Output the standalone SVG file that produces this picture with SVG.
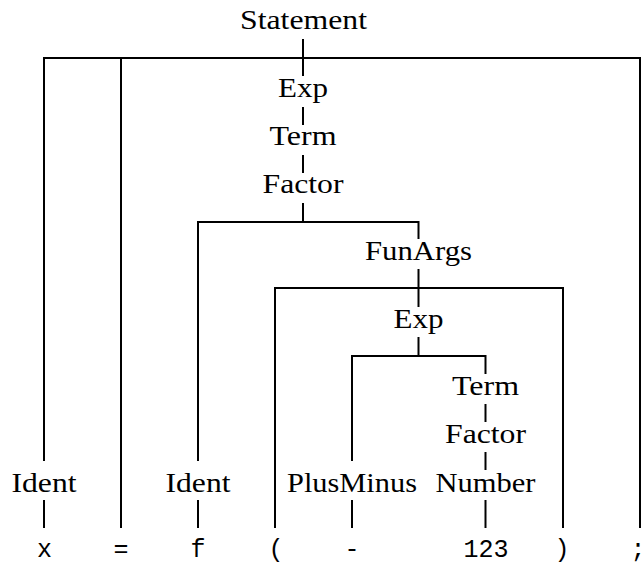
<svg xmlns="http://www.w3.org/2000/svg" width="644" height="566" viewBox="0 0 644 566">
  <style>
    text.lbl { font-family: "Liberation Serif", serif; font-size: 28px; fill: #000; text-anchor: middle; }
    text.tok { font-family: "Liberation Mono", monospace; font-size: 25px; fill: #000; text-anchor: middle; }
    .edge { fill: none; stroke: #000; stroke-width: 2; stroke-linejoin: miter; stroke-linecap: butt; }
  </style>
  <rect width="644" height="566" fill="#fff"/>

  <!-- tree edges -->
  <g id="connectors">
    <!-- Statement -->
    <path class="edge" d="M303 39 V76"/>
    <path class="edge" d="M44 461 V58 H640 V528"/>
    <path class="edge" d="M121 58 V528"/>
    <!-- Exp > Term > Factor -->
    <path class="edge" d="M303 107 V125"/>
    <path class="edge" d="M303 155 V173"/>
    <path class="edge" d="M303 203 V222"/>
    <!-- Factor children -->
    <path class="edge" d="M198 461 V222 H418.5 V239"/>
    <!-- FunArgs children -->
    <path class="edge" d="M418.5 269 V307"/>
    <path class="edge" d="M275 528 V288 H563 V528"/>
    <!-- Exp children -->
    <path class="edge" d="M418.5 337 V356"/>
    <path class="edge" d="M352 461 V356 H485.5 V374"/>
    <!-- Term > Factor > Number -->
    <path class="edge" d="M485.5 404 V422"/>
    <path class="edge" d="M485.5 452 V470"/>
    <!-- leaves -->
    <path class="edge" d="M44 500 V528"/>
    <path class="edge" d="M198 500 V528"/>
    <path class="edge" d="M352 500 V528"/>
    <path class="edge" d="M485.5 500 V528"/>
  </g>

  <g id="n-statement"><text class="lbl" x="303.5" y="29" textLength="127" lengthAdjust="spacingAndGlyphs">Statement</text></g>
  <g id="n-exp1"><text class="lbl" x="303" y="97" textLength="50" lengthAdjust="spacingAndGlyphs">Exp</text></g>
  <g id="n-term1"><text class="lbl" x="303" y="145" textLength="67" lengthAdjust="spacingAndGlyphs">Term</text></g>
  <g id="n-factor1"><text class="lbl" x="303" y="193" textLength="81" lengthAdjust="spacingAndGlyphs">Factor</text></g>
  <g id="n-funargs"><text class="lbl" x="418.5" y="260" textLength="107" lengthAdjust="spacingAndGlyphs">FunArgs</text></g>
  <g id="n-exp2"><text class="lbl" x="418.5" y="328" textLength="50" lengthAdjust="spacingAndGlyphs">Exp</text></g>
  <g id="n-term2"><text class="lbl" x="485.5" y="395" textLength="67" lengthAdjust="spacingAndGlyphs">Term</text></g>
  <g id="n-factor2"><text class="lbl" x="485.5" y="443" textLength="81" lengthAdjust="spacingAndGlyphs">Factor</text></g>
  <g id="n-ident1"><text class="lbl" x="44" y="492" textLength="65" lengthAdjust="spacingAndGlyphs">Ident</text></g>
  <g id="n-ident2"><text class="lbl" x="198" y="492" textLength="65" lengthAdjust="spacingAndGlyphs">Ident</text></g>
  <g id="n-plusminus"><text class="lbl" x="352" y="492" textLength="130" lengthAdjust="spacingAndGlyphs">PlusMinus</text></g>
  <g id="n-number"><text class="lbl" x="485.5" y="492" textLength="100" lengthAdjust="spacingAndGlyphs">Number</text></g>

  <g id="tok-x"><text class="tok" x="44.5" y="557">x</text></g>
  <g id="tok-eq"><text class="tok" x="121" y="557">=</text></g>
  <g id="tok-f"><text class="tok" x="198" y="557">f</text></g>
  <g id="tok-lparen"><text class="tok" x="276" y="557">(</text></g>
  <g id="tok-minus"><text class="tok" x="352" y="557">-</text></g>
  <g id="tok-123"><text class="tok" x="486" y="557">123</text></g>
  <g id="tok-rparen"><text class="tok" x="562" y="557">)</text></g>
  <g id="tok-semi"><text class="tok" x="638" y="557">;</text></g>
</svg>
